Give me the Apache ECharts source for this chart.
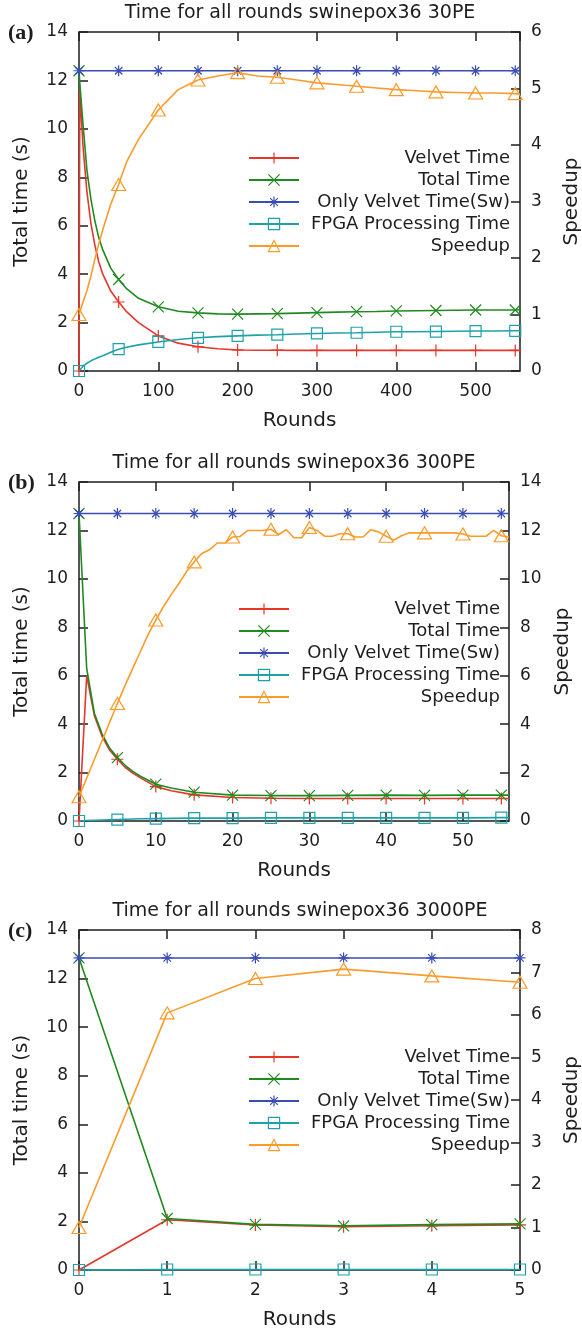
<!DOCTYPE html>
<html>
<head>
<meta charset="utf-8">
<script src="https://cdn.jsdelivr.net/npm/echarts@6/dist/echarts.min.js"></script>
<style>
  html, body { margin: 0; padding: 0; background: #fff; }
  #chart { width: 582px; height: 1332px; }
</style>
</head>
<body>
<div id="chart"></div>
<script>
// ---------------- data ----------------
const SERIES_NAMES = ['Velvet Time', 'Total Time', 'Only Velvet Time(Sw)', 'FPGA Processing Time', 'Speedup'];
const TITLES = ['Time for all rounds swinepox36 30PE', 'Time for all rounds swinepox36 300PE', 'Time for all rounds swinepox36 3000PE'];
const PANEL_TAGS = ['(a)', '(b)', '(c)'];
const X_NAME = 'Rounds';
const Y_NAME = 'Total time (s)';
const Y2_NAME = 'Speedup';

// (a) 30 PE
const ROUNDS_A   = [0, 1, 5, 10, 15, 20, 25, 30, 40, 50, 60, 75, 100, 125, 150, 175, 200, 225, 250, 275, 300, 325, 350, 375, 400, 425, 450, 475, 500, 525, 550, 556];
const VELVET_A   = [0, 11.6, 9.3, 7.4, 6.1, 5.2, 4.5, 4.0, 3.3, 2.85, 2.45, 2.0, 1.45, 1.15, 1.0, 0.92, 0.87, 0.86, 0.86, 0.85, 0.85, 0.85, 0.85, 0.85, 0.85, 0.85, 0.85, 0.85, 0.85, 0.85, 0.85, 0.85];
const TOTAL_A    = [12.4, 11.9, 10.2, 8.3, 7.1, 6.2, 5.5, 5.0, 4.25, 3.78, 3.4, 3.0, 2.65, 2.47, 2.4, 2.36, 2.35, 2.36, 2.37, 2.39, 2.41, 2.43, 2.45, 2.46, 2.48, 2.49, 2.5, 2.51, 2.52, 2.52, 2.52, 2.53];
const FPGA_A     = [0, 0.05, 0.2, 0.32, 0.42, 0.5, 0.57, 0.63, 0.77, 0.9, 0.98, 1.08, 1.2, 1.3, 1.37, 1.42, 1.45, 1.48, 1.5, 1.53, 1.55, 1.57, 1.58, 1.6, 1.62, 1.62, 1.63, 1.64, 1.65, 1.65, 1.66, 1.66];
const SPEEDUP_A  = [1.0, 1.04, 1.22, 1.42, 1.68, 1.98, 2.25, 2.5, 2.95, 3.3, 3.7, 4.1, 4.62, 4.98, 5.15, 5.22, 5.28, 5.22, 5.2, 5.15, 5.1, 5.07, 5.04, 5.01, 4.98, 4.96, 4.94, 4.93, 4.92, 4.92, 4.91, 4.9];
const ONLY_ROUNDS_A = [0, 50, 100, 150, 200, 250, 300, 350, 400, 450, 500, 550, 556];
const ONLY_A        = [12.4, 12.4, 12.4, 12.4, 12.4, 12.4, 12.4, 12.4, 12.4, 12.4, 12.4, 12.4, 12.4];

// (b) 300 PE
const ROUNDS_B   = [0, 1, 2, 3, 4, 5, 6, 7, 8, 10, 12, 15, 20, 25, 30, 35, 40, 45, 50, 55, 56];
const VELVET_B   = [0, 6.0, 4.35, 3.5, 2.92, 2.55, 2.22, 1.98, 1.78, 1.42, 1.25, 1.08, 0.97, 0.94, 0.93, 0.93, 0.93, 0.93, 0.93, 0.93, 0.93];
const TOTAL_B    = [12.7, 6.3, 4.45, 3.6, 3.0, 2.62, 2.3, 2.05, 1.85, 1.52, 1.36, 1.19, 1.07, 1.05, 1.05, 1.06, 1.07, 1.06, 1.07, 1.07, 1.07];
const FPGA_B     = [0, 0.02, 0.03, 0.04, 0.05, 0.06, 0.07, 0.08, 0.09, 0.1, 0.11, 0.12, 0.12, 0.13, 0.13, 0.13, 0.13, 0.13, 0.13, 0.14, 0.14];
const SPEEDUP_ROUNDS_B = [0, 5, 6, 7, 8, 9, 10, 11, 12, 13, 14, 15, 16, 17, 18, 19, 20, 21, 22, 23, 24, 25, 26, 27, 28, 29, 30, 31, 32, 33, 34, 35, 36, 37, 38, 39, 40, 41, 42, 43, 44, 45, 46, 47, 48, 49, 50, 51, 52, 53, 54, 55, 56];
const SPEEDUP_B  = [1.0, 4.85, 5.6, 6.3, 7.0, 7.7, 8.3, 8.85, 9.35, 9.8, 10.3, 10.7, 11.05, 11.2, 11.48, 11.48, 11.73, 11.75, 12.0, 12.0, 12.0, 12.05, 11.83, 12.03, 11.7, 11.7, 12.12, 12.0, 11.76, 11.76, 11.86, 11.86, 11.73, 11.73, 12.03, 11.94, 11.76, 11.6, 11.78, 11.9, 11.9, 11.9, 11.9, 11.9, 11.9, 11.9, 11.85, 11.76, 11.76, 11.76, 12.0, 11.78, 11.73];
const ONLY_ROUNDS_B = [0, 5, 10, 15, 20, 25, 30, 35, 40, 45, 50, 55, 56];
const ONLY_B        = [12.7, 12.7, 12.7, 12.7, 12.7, 12.7, 12.7, 12.7, 12.7, 12.7, 12.7, 12.7, 12.7];

// (c) 3000 PE
const ROUNDS_C   = [0, 1, 2, 3, 4, 5];
const VELVET_C   = [0, 2.07, 1.85, 1.78, 1.82, 1.86];
const TOTAL_C    = [12.85, 2.12, 1.88, 1.82, 1.87, 1.9];
const ONLY_C     = [12.85, 12.85, 12.85, 12.85, 12.85, 12.85];
const FPGA_C     = [0, 0.02, 0.02, 0.02, 0.02, 0.02];
const SPEEDUP_C  = [1.0, 6.05, 6.86, 7.08, 6.92, 6.77];

// axis ranges
const X_MAX   = [556, 56, 5];
const X_STEP  = [100, 10, 1];
const Y_MAX   = 14, Y_STEP = 2;
const Y2_MAX  = [6, 14, 8];
const Y2_STEP = [1, 2, 1];

// ---------------- styling ----------------
const FONT = 'DejaVu Sans';
const INK = '#1e1e1e';
const COLORS = ['#e5362b', '#1f8a1f', '#3a4db3', '#1ea2a9', '#fb9b2b'];
const SYMBOLS = [
  'path://M5,0V10M0,5H10',                                   // +
  'path://M0,0L10,10M10,0L0,10',                             // x
  'path://M5,0V10M0,5H10M1.6,1.6L8.4,8.4M8.4,1.6L1.6,8.4',    // *
  'path://M0,0H10V10H0Z',                                    // open square
  'path://M5,0L10,8.66L0,8.66Z'                              // open triangle
];
const SYMBOL_SIZES = [12, 11, 11, 11, [14, 12]];

// panel geometry (plot rectangle, legend block, title position)
const PANELS = [
  { grid: { left: 79, top: 32, width: 441, height: 339 }, legend: { left: 248, top: 148, textW: 206 }, title: { x: 300, y: 13 }, tag: { x: 8, y: 33 }, markEvery: 50 },
  { grid: { left: 79, top: 482, width: 430, height: 339 }, legend: { left: 238, top: 599, textW: 206 }, title: { x: 294, y: 463 }, tag: { x: 8, y: 483 }, markEvery: 5 },
  { grid: { left: 79, top: 930, width: 441, height: 340 }, legend: { left: 248, top: 1047, textW: 206 }, title: { x: 300, y: 911 }, tag: { x: 8, y: 931 }, markEvery: 1 }
];

const PANEL_DATA = [
  [[ROUNDS_A, VELVET_A], [ROUNDS_A, TOTAL_A], [ONLY_ROUNDS_A, ONLY_A], [ROUNDS_A, FPGA_A], [ROUNDS_A, SPEEDUP_A]],
  [[ROUNDS_B, VELVET_B], [ROUNDS_B, TOTAL_B], [ONLY_ROUNDS_B, ONLY_B], [ROUNDS_B, FPGA_B], [SPEEDUP_ROUNDS_B, SPEEDUP_B]],
  [[ROUNDS_C, VELVET_C], [ROUNDS_C, TOTAL_C], [ROUNDS_C, ONLY_C], [ROUNDS_C, FPGA_C], [ROUNDS_C, SPEEDUP_C]]
];

// ---------------- option building ----------------
const grids = [], xAxes = [], yAxes = [], series = [], legends = [], graphics = [];

// Each axis is shifted TICK_LEN px into the plot and draws its ticks outward,
// so the ticks end exactly on the frame and read as inward ticks.
// Every axis gets its own fresh style objects.
const TICK_LEN = 9;
function hiddenLine() { return { show: false, onZero: false }; }
function tickStyle() { return { show: true, inside: false, length: TICK_LEN, lineStyle: { color: INK, width: 1.5 } }; }
function labelStyle(extra) { return Object.assign({ fontFamily: FONT, fontSize: 17, color: INK }, extra); }
function nameStyle() { return { fontFamily: FONT, fontSize: 20, color: INK }; }

PANELS.forEach((p, i) => {
  grids.push(Object.assign({
    show: true, borderColor: INK, borderWidth: 1.5, backgroundColor: 'transparent',
    containLabel: false, outerBoundsMode: 'none'
  }, p.grid));

  const showMax = (X_MAX[i] % X_STEP[i]) === 0;
  // bottom axis with labels
  xAxes.push({
    gridIndex: i, type: 'value', position: 'bottom', offset: -TICK_LEN, min: 0, max: X_MAX[i], interval: X_STEP[i],
    axisLine: hiddenLine(), axisTick: tickStyle(), minorTick: { show: false }, splitLine: { show: false },
    axisLabel: labelStyle({ margin: 12 + TICK_LEN, showMaxLabel: showMax, showMinLabel: true }),
    name: X_NAME, nameLocation: 'middle', nameGap: 40 + TICK_LEN, nameTextStyle: nameStyle()
  });
  // mirrored ticks on the top border
  xAxes.push({
    gridIndex: i, type: 'value', position: 'top', offset: -TICK_LEN, min: 0, max: X_MAX[i], interval: X_STEP[i],
    axisLine: hiddenLine(), axisTick: tickStyle(), minorTick: { show: false }, splitLine: { show: false },
    axisLabel: { show: false }
  });
  // left: time
  yAxes.push({
    gridIndex: i, type: 'value', position: 'left', offset: -TICK_LEN, min: 0, max: Y_MAX, interval: Y_STEP,
    axisLine: hiddenLine(), axisTick: tickStyle(), minorTick: { show: false }, splitLine: { show: false },
    axisLabel: labelStyle({ margin: 11 + TICK_LEN }),
    name: Y_NAME, nameLocation: 'middle', nameGap: 47 + TICK_LEN, nameRotate: 90, nameTextStyle: nameStyle()
  });
  // right: speedup
  yAxes.push({
    gridIndex: i, type: 'value', position: 'right', offset: -TICK_LEN, min: 0, max: Y2_MAX[i], interval: Y2_STEP[i],
    axisLine: hiddenLine(), axisTick: tickStyle(), minorTick: { show: false }, splitLine: { show: false },
    axisLabel: labelStyle({ margin: 11 + TICK_LEN }),
    name: Y2_NAME, nameLocation: 'middle', nameGap: 42 + TICK_LEN, nameRotate: 90, nameTextStyle: nameStyle()
  });

  PANEL_DATA[i].forEach((pair, k) => {
    const xs = pair[0], ys = pair[1];
    const data = xs.map((x, j) => {
      const item = { value: [x, ys[j]] };
      if (x % p.markEvery !== 0) item.symbol = 'none';
      return item;
    });
    series.push({
      type: 'line',
      name: SERIES_NAMES[k],
      xAxisIndex: i * 2,
      yAxisIndex: k === 4 ? i * 2 + 1 : i * 2,
      data: data,
      symbol: SYMBOLS[k],
      symbolSize: SYMBOL_SIZES[k],
      symbolKeepAspect: false,
      showAllSymbol: true,
      lineStyle: { color: COLORS[k], width: 1.6 },
      itemStyle: { color: 'rgba(0,0,0,0)', borderColor: COLORS[k], borderWidth: 1.2 },
      emphasis: { disabled: true },
      animation: false,
      clip: false,
      z: 2 + k
    });
  });

  legends.push({
    data: SERIES_NAMES,
    orient: 'vertical',
    left: p.legend.left,
    top: p.legend.top,
    itemWidth: 50,
    itemHeight: 14,
    itemGap: 2,
    padding: 0,
    selectedMode: false,
    itemStyle: { borderWidth: 1.2 },
    formatter: name => '{r|' + name + '}',
    textStyle: {
      fontFamily: FONT, fontSize: 18, color: INK, lineHeight: 20,
      rich: { r: { width: p.legend.textW, align: 'right', fontFamily: FONT, fontSize: 18, color: INK, lineHeight: 20 } }
    }
  });

  graphics.push({
    type: 'text', x: p.title.x, y: p.title.y,
    style: { text: TITLES[i], fontFamily: FONT, fontSize: 19, fill: INK, textAlign: 'center', textVerticalAlign: 'middle' }
  });
  graphics.push({
    type: 'text', x: p.tag.x, y: p.tag.y,
    style: { text: PANEL_TAGS[i], fontFamily: 'Liberation Serif', fontWeight: 'bold', fontSize: 22, fill: INK, textAlign: 'left', textVerticalAlign: 'middle' }
  });
});

const chart = echarts.init(document.getElementById('chart'), null, { renderer: 'canvas' });
chart.setOption({
  backgroundColor: '#ffffff',
  animation: false,
  grid: grids,
  xAxis: xAxes,
  yAxis: yAxes,
  legend: legends,
  series: series,
  graphic: graphics
});
</script>
</body>
</html>
